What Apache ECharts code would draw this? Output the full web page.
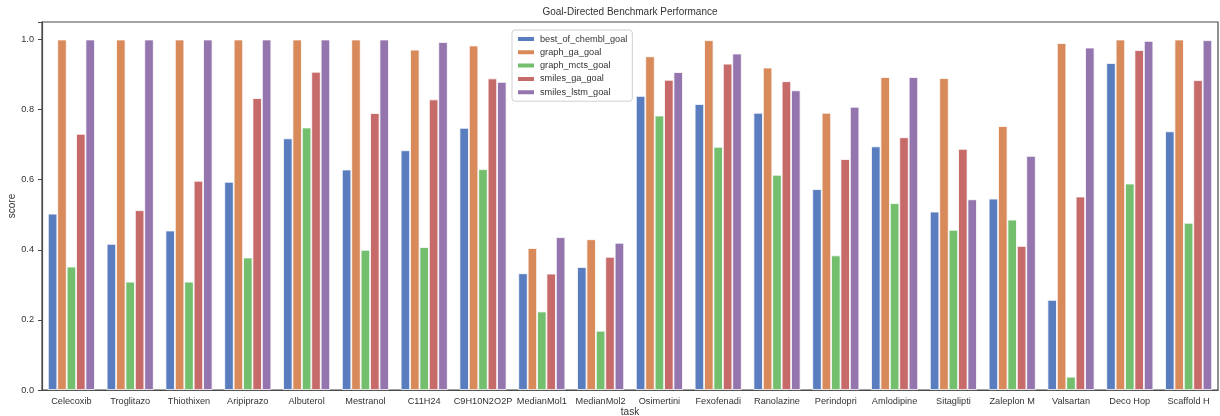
<!DOCTYPE html>
<html>
<head>
<meta charset="utf-8">
<title>Goal-Directed Benchmark Performance</title>
<script src="https://cdn.jsdelivr.net/npm/echarts@6/dist/echarts.min.js"></script>
<style>
  html, body { margin: 0; padding: 0; background: #fff; }
  #benchChart { width: 1220px; height: 416px; }
</style>
</head>
<body>
<div id="benchChart"></div>
<script>
// task names (truncated like in the source plot)
var categories = ['Celecoxib', 'Troglitazo', 'Thiothixen', 'Aripiprazo', 'Albuterol', 'Mestranol',
  'C11H24', 'C9H10N2O2P', 'MedianMol1', 'MedianMol2', 'Osimertini', 'Fexofenadi', 'Ranolazine',
  'Perindopri', 'Amlodipine', 'Sitaglipti', 'Zaleplon M', 'Valsartan', 'Deco Hop', 'Scaffold H'];

var seriesNames = ['best_of_chembl_goal', 'graph_ga_goal', 'graph_mcts_goal', 'smiles_ga_goal', 'smiles_lstm_goal'];

var bestOfChembl = [0.503, 0.417, 0.455, 0.594, 0.718, 0.629, 0.684, 0.748, 0.333, 0.351,
  0.839, 0.816, 0.791, 0.573, 0.695, 0.509, 0.546, 0.257, 0.933, 0.738];
var graphGa = [1.0, 1.0, 1.0, 1.0, 1.0, 1.0, 0.971, 0.983, 0.405, 0.430,
  0.952, 0.998, 0.920, 0.791, 0.893, 0.890, 0.753, 0.990, 1.0, 1.0];
var graphMcts = [0.352, 0.309, 0.309, 0.378, 0.749, 0.400, 0.408, 0.630, 0.224, 0.169,
  0.783, 0.694, 0.614, 0.384, 0.533, 0.457, 0.486, 0.038, 0.589, 0.477];
var smilesGa = [0.731, 0.513, 0.597, 0.833, 0.908, 0.790, 0.829, 0.889, 0.332, 0.380,
  0.885, 0.931, 0.881, 0.659, 0.721, 0.688, 0.411, 0.552, 0.970, 0.884];
var smilesLstm = [1.0, 1.0, 1.0, 1.0, 1.0, 1.0, 0.993, 0.879, 0.436, 0.420,
  0.907, 0.960, 0.855, 0.808, 0.893, 0.544, 0.668, 0.977, 0.996, 0.998];

var yTicks = [0, 0.2, 0.4, 0.6, 0.8, 1.0];

var colors = ['#5a7dbf', '#d98a5b', '#74bf6e', '#c76a6a', '#9475ad'];
var allData = [bestOfChembl, graphGa, graphMcts, smilesGa, smilesLstm];

var font = 'Liberation Sans, Arial, sans-serif';
var axisColor = '#4a4a4a';

var chart = echarts.init(document.getElementById('benchChart'));

var series = seriesNames.map(function (name, i) {
  return {
    name: name,
    type: 'bar',
    data: allData[i],
    barGap: '0%',
    barCategoryGap: '20%',
    itemStyle: {
      color: colors[i],
      borderColor: '#ffffff',
      borderWidth: 0.8
    },
    animation: false
  };
});

chart.setOption({
  backgroundColor: '#ffffff',
  color: colors,
  title: {
    text: 'Goal-Directed Benchmark Performance',
    left: 630,
    textAlign: 'center',
    top: 7,
    padding: 0,
    textStyle: { fontFamily: font, fontSize: 10, fontWeight: 'normal', color: '#333' }
  },
  grid: {
    left: 42,
    right: 2,
    top: 22,
    bottom: 26,
    outerBoundsMode: 'none', // keep the plot box where it is, labels may hang outside
    show: true,
    borderColor: axisColor,
    borderWidth: 1.2
  },
  legend: {
    orient: 'vertical',
    left: 512,
    top: 30,
    itemWidth: 18,
    itemHeight: 6,
    itemGap: 1.3,
    padding: [3, 5, 3, 4],
    icon: 'rect',
    backgroundColor: '#fff',
    borderColor: '#d0d0d0',
    borderWidth: 1,
    borderRadius: 3,
    textStyle: { fontFamily: font, fontSize: 9.2, color: '#333', lineHeight: 12 },
    data: seriesNames
  },
  xAxis: {
    type: 'category',
    data: categories,
    name: 'task',
    nameLocation: 'middle',
    nameGap: 17,
    nameMoveOverlap: false,
    nameTextStyle: { fontFamily: font, fontSize: 10, color: '#333' },
    axisLine: { lineStyle: { color: axisColor, width: 1.2 } },
    axisTick: { alignWithLabel: true, length: 4, lineStyle: { color: axisColor } },
    axisLabel: { fontFamily: font, fontSize: 9.2, color: '#333', margin: 7, interval: 0 }
  },
  yAxis: {
    type: 'value',
    min: 0,
    max: 1.05,
    interval: 0.2,
    name: 'score',
    nameLocation: 'middle',
    nameGap: 25,
    nameMoveOverlap: false,
    nameTextStyle: { fontFamily: font, fontSize: 10, color: '#333' },
    axisLine: { show: true, lineStyle: { color: axisColor, width: 1.2 } },
    axisTick: { show: true, length: 4, lineStyle: { color: axisColor } },
    splitLine: { show: false },
    axisLabel: {
      fontFamily: font, fontSize: 9.2, color: '#333', margin: 8,
      formatter: function (v) {
        // only the seaborn ticks, with one decimal
        for (var i = 0; i < yTicks.length; i++) {
          if (Math.abs(v - yTicks[i]) < 1e-6) return yTicks[i].toFixed(1);
        }
        return '';
      }
    }
  },
  series: series
});
</script>
</body>
</html>
